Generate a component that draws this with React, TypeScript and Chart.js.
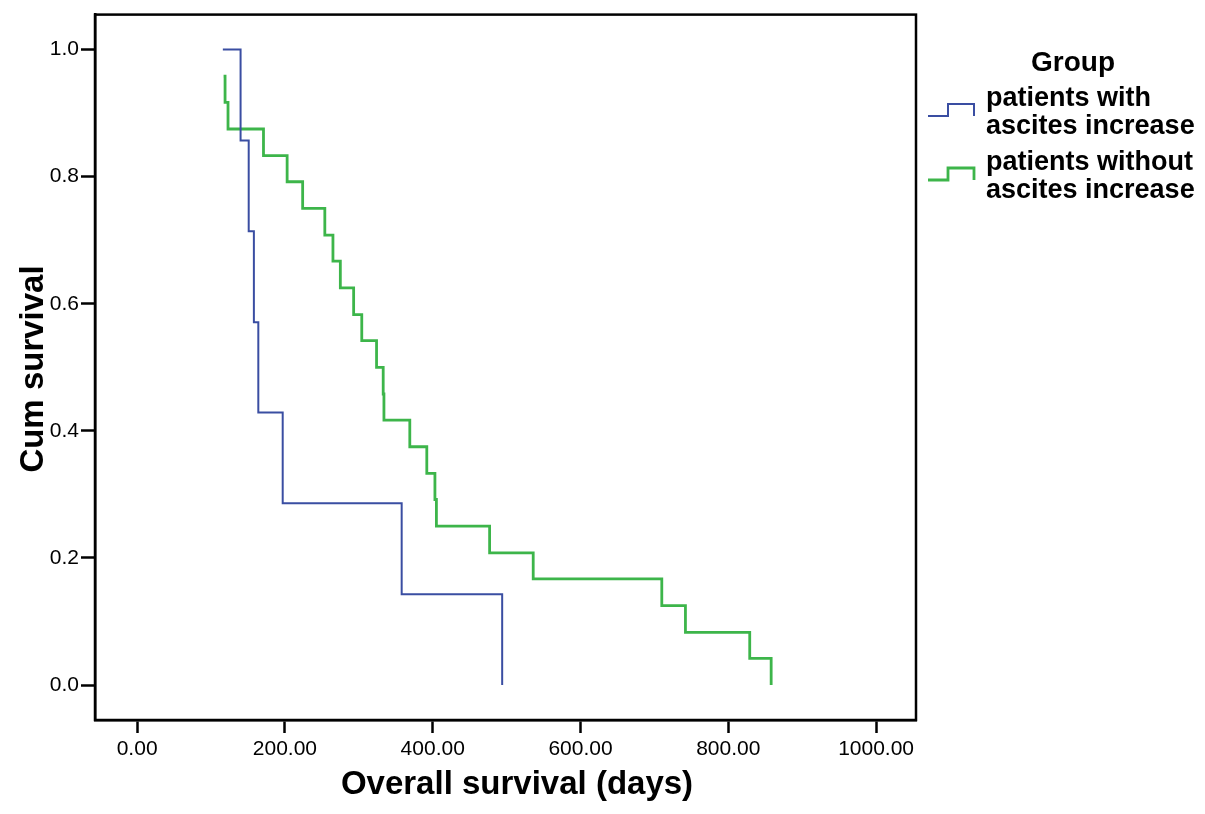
import React, { useEffect, useRef } from "react";
import { Chart, registerables } from "chart.js";

Chart.register(...registerables);

// Kaplan-Meier step data (days, cumulative survival after the step)
const WITH_DAYS = [116, 140, 151, 158, 164, 197, 358, 494];
const WITH_SURV = [1.0, 0.857, 0.714, 0.571, 0.429, 0.286, 0.143, 0.0];

const WITHOUT_DAYS = [117, 119, 123, 171, 203, 224, 254, 265, 275, 293, 304, 324, 333, 334, 369, 392, 403, 405, 477, 536, 710, 742, 829, 858];
const WITHOUT_SURV = [0.958, 0.917, 0.875, 0.833, 0.792, 0.75, 0.708, 0.667, 0.625, 0.583, 0.542, 0.5, 0.458, 0.417, 0.375, 0.333, 0.292, 0.25, 0.208, 0.167, 0.125, 0.083, 0.042, 0.0];

const X_TICKS = [0, 200, 400, 600, 800, 1000];
const Y_TICKS = [0, 0.2, 0.4, 0.6, 0.8, 1.0];

const SERIES_LABELS = [["patients with", "ascites increase"], ["patients without", "ascites increase"]];
const LEGEND_TITLE = "Group";
const X_TITLE = "Overall survival (days)";
const Y_TITLE = "Cum survival";

const BLUE = "#3a4ea2";
const GREEN = "#3db54a";
const FONT = "'Liberation Sans', Arial, Helvetica, sans-serif";

export default function App() {
  const ref = useRef<HTMLCanvasElement | null>(null);

  useEffect(() => {
    if (!ref.current) return;
    const decor = {
      id: "decor",
      afterDraw(chart: any) {
        const ctx = chart.ctx as CanvasRenderingContext2D;
        const a = chart.chartArea;
        ctx.save();
        // plot frame
        ctx.strokeStyle = "#000";
        ctx.lineWidth = 2.5;
        ctx.strokeRect(a.left, a.top, a.right - a.left, a.bottom - a.top);

        // axis titles
        ctx.fillStyle = "#000";
        ctx.font = `bold 33px ${FONT}`;
        ctx.textAlign = "center";
        ctx.textBaseline = "middle";
        ctx.fillText(X_TITLE, 517, 785);
        ctx.save();
        ctx.translate(34, 369);
        ctx.rotate(-Math.PI / 2);
        ctx.fillText(Y_TITLE, 0, 0);
        ctx.restore();

        // legend
        ctx.font = `bold 28px ${FONT}`;
        ctx.textAlign = "center";
        ctx.textBaseline = "middle";
        ctx.fillText(LEGEND_TITLE, 1073, 63);
        ctx.font = `bold 27px ${FONT}`;
        ctx.textAlign = "left";
        ctx.textBaseline = "alphabetic";
        const items = [
          { color: BLUE, width: 2, base: [106, 134], lo: 116, hi: 104 },
          { color: GREEN, width: 2.8, base: [170, 198], lo: 180, hi: 168 },
        ];
        items.forEach((it, i) => {
          ctx.strokeStyle = it.color;
          ctx.lineWidth = it.width;
          ctx.beginPath();
          ctx.moveTo(928, it.lo);
          ctx.lineTo(948, it.lo);
          ctx.lineTo(948, it.hi);
          ctx.lineTo(974, it.hi);
          ctx.lineTo(974, it.lo);
          ctx.stroke();
          ctx.fillStyle = "#000";
          ctx.fillText(SERIES_LABELS[i][0], 986, it.base[0]);
          ctx.fillText(SERIES_LABELS[i][1], 986, it.base[1]);
        });
        ctx.restore();
      },
    };

    const chart = new Chart(ref.current, {
      type: "line",
      data: {
        datasets: [
          {
            label: SERIES_LABELS[0].join(" "),
            data: WITH_DAYS.map((d, i) => ({ x: d, y: WITH_SURV[i] })),
            borderColor: BLUE,
            borderWidth: 2,
            stepped: true,
            pointRadius: 0,
            fill: false,
          },
          {
            label: SERIES_LABELS[1].join(" "),
            data: WITHOUT_DAYS.map((d, i) => ({ x: d, y: WITHOUT_SURV[i] })),
            borderColor: GREEN,
            borderWidth: 2.8,
            stepped: true,
            pointRadius: 0,
            fill: false,
          },
        ],
      },
      options: {
        animation: false,
        responsive: false,
        maintainAspectRatio: false,
        layout: { padding: { left: 0, top: 14, right: 289, bottom: 0 } },
        plugins: { legend: { display: false }, tooltip: { enabled: false } },
        scales: {
          x: {
            type: "linear",
            min: -57,
            max: 1054,
            afterBuildTicks: (s: any) => {
              s.ticks = X_TICKS.map((v) => ({ value: v }));
            },
            afterFit: (s: any) => {
              s.height = 94;
            },
            grid: {
              drawOnChartArea: false,
              drawTicks: true,
              tickLength: 13,
              tickWidth: 2.5,
              tickColor: "#000",
            },
            border: { display: true, color: "#000", width: 2.5 },
            ticks: {
              color: "#000",
              padding: 4,
              maxRotation: 0,
              font: { family: FONT, size: 21 },
              callback: (v: any) => Number(v).toFixed(2),
            },
          },
          y: {
            type: "linear",
            min: -0.055,
            max: 1.055,
            afterBuildTicks: (s: any) => {
              s.ticks = Y_TICKS.map((v) => ({ value: v }));
            },
            afterFit: (s: any) => {
              s.width = 95;
            },
            grid: {
              drawOnChartArea: false,
              drawTicks: true,
              tickLength: 14,
              tickWidth: 2.5,
              tickColor: "#000",
            },
            border: { display: true, color: "#000", width: 2.5 },
            ticks: {
              color: "#000",
              padding: 2,
              font: { family: FONT, size: 21 },
              callback: (v: any) => Number(v).toFixed(1),
            },
          },
        },
      },
      plugins: [decor],
    });
    return () => chart.destroy();
  }, []);

  return (
    <div style={{ position: "absolute", left: 0, top: 0, width: 1205, height: 814, background: "#fff" }}>
      <canvas ref={ref} width={1205} height={814} style={{ width: 1205, height: 814, display: "block" }} />
    </div>
  );
}
